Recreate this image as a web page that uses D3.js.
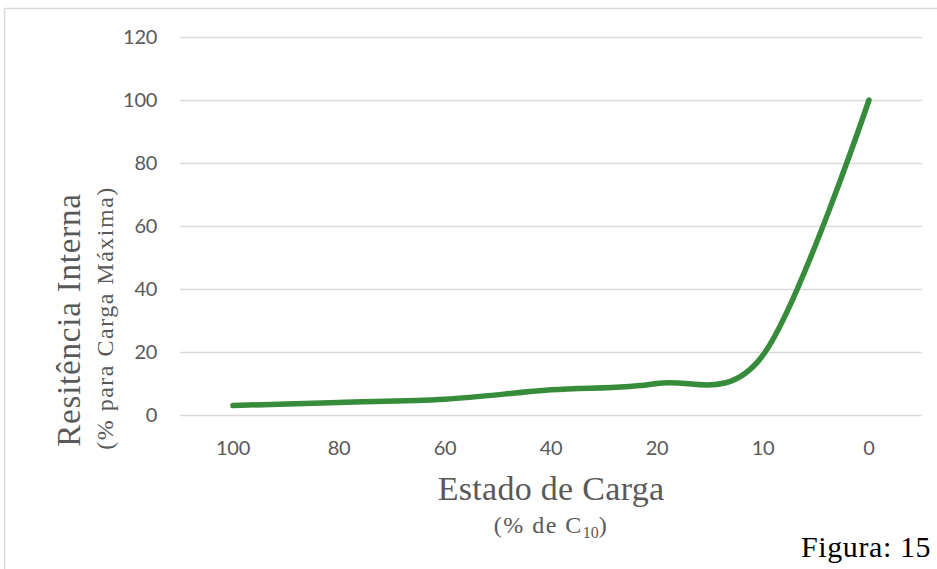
<!DOCTYPE html>
<html>
<head>
<meta charset="utf-8">
<script src="https://cdn.jsdelivr.net/npm/d3@7"></script>
<style>
  html, body { margin: 0; padding: 0; background: #fff; }
  svg { display: block; }
</style>
</head>
<body>
<svg id="chart" width="937" height="569"></svg>
<script>
// State of charge (% of C10) and internal resistance (% of max charge)
const categories = ["100", "80", "60", "40", "20", "10", "0"];
const resistance = [3, 4, 5, 8, 10, 19, 100];
const yTicks = [0, 20, 40, 60, 80, 100, 120];

const svg = d3.select("#chart");
const W = 937, H = 569;
const plot = { left: 180, right: 922, top: 37, bottom: 415 };

// chart frame
svg.append("path")
  .attr("d", `M4.5,${H} V8.5 H${W}`)
  .attr("fill", "none")
  .attr("stroke", "#d9d9d9")
  .attr("stroke-width", 1.5);

const x = d3.scaleBand()
  .domain(categories)
  .range([plot.left, plot.right])
  .padding(0);

const y = d3.scaleLinear()
  .domain([0, 120])
  .range([plot.bottom, plot.top]);

const tickFont = "Lato, 'Open Sans', sans-serif";

// horizontal gridlines + y tick labels
const yAxis = d3.axisLeft(y)
  .tickValues(yTicks)
  .tickSize(-(plot.right - plot.left))
  .tickPadding(23);

svg.append("g")
  .attr("transform", `translate(${plot.left},0)`)
  .call(yAxis)
  .call(g => g.select(".domain").remove())
  .call(g => g.selectAll(".tick line").attr("stroke", "#d9d9d9").attr("stroke-width", 1.5))
  .call(g => g.selectAll(".tick text")
    .attr("fill", "#595959")
    .style("font-family", tickFont)
    .style("font-size", "20px")
    .style("letter-spacing", "-0.3px"));

// x tick labels
const xAxis = d3.axisBottom(x).tickSize(0).tickPadding(26);
svg.append("g")
  .attr("transform", `translate(0,${plot.bottom})`)
  .call(xAxis)
  .call(g => g.select(".domain").remove())
  .call(g => g.selectAll(".tick text")
    .attr("fill", "#595959")
    .style("font-family", tickFont)
    .style("font-size", "20px")
    .style("letter-spacing", "-0.3px"));

// smoothed data line
const line = d3.line()
  .x((d, i) => x(categories[i]) + x.bandwidth() / 2)
  .y(d => y(d))
  .curve(d3.curveCardinal.tension(0));

svg.append("path")
  .datum(resistance)
  .attr("d", line)
  .attr("fill", "none")
  .attr("stroke", "#368c3a")
  .attr("stroke-width", 5.5)
  .attr("stroke-linecap", "round")
  .attr("stroke-linejoin", "round");

const serif = "'Liberation Serif', 'DejaVu Serif', serif";

// x axis title
const cx = (plot.left + plot.right) / 2;
svg.append("text")
  .attr("x", cx).attr("y", 500)
  .attr("text-anchor", "middle")
  .attr("fill", "#595959")
  .style("font-family", serif)
  .style("font-size", "34px")
  .style("letter-spacing", "0.3px")
  .text("Estado de Carga");

const sub = svg.append("text")
  .attr("x", cx).attr("y", 533)
  .attr("text-anchor", "middle")
  .attr("fill", "#595959")
  .style("font-family", serif)
  .style("font-size", "24px")
  .style("letter-spacing", "1.5px");
sub.append("tspan").text("(% de C");
sub.append("tspan").attr("dy", 5).style("font-size", "16px").style("letter-spacing", "0px").text("10");
sub.append("tspan").attr("dy", -5).text(")");

// y axis title
svg.append("text")
  .attr("transform", `translate(80,320) rotate(-90)`)
  .attr("text-anchor", "middle")
  .attr("fill", "#595959")
  .style("font-family", serif)
  .style("font-size", "33px")
  .style("letter-spacing", "0.8px")
  .text("Resitência Interna");

svg.append("text")
  .attr("transform", `translate(113,318) rotate(-90)`)
  .attr("text-anchor", "middle")
  .attr("fill", "#595959")
  .style("font-family", serif)
  .style("font-size", "24px")
  .style("letter-spacing", "1.5px")
  .text("(% para Carga Máxima)");

// figure caption
svg.append("text")
  .attr("x", 801).attr("y", 557)
  .attr("fill", "#000")
  .style("font-family", serif)
  .style("font-size", "30px")
  .style("letter-spacing", "0.6px")
  .text("Figura: 15");
</script>
</body>
</html>
